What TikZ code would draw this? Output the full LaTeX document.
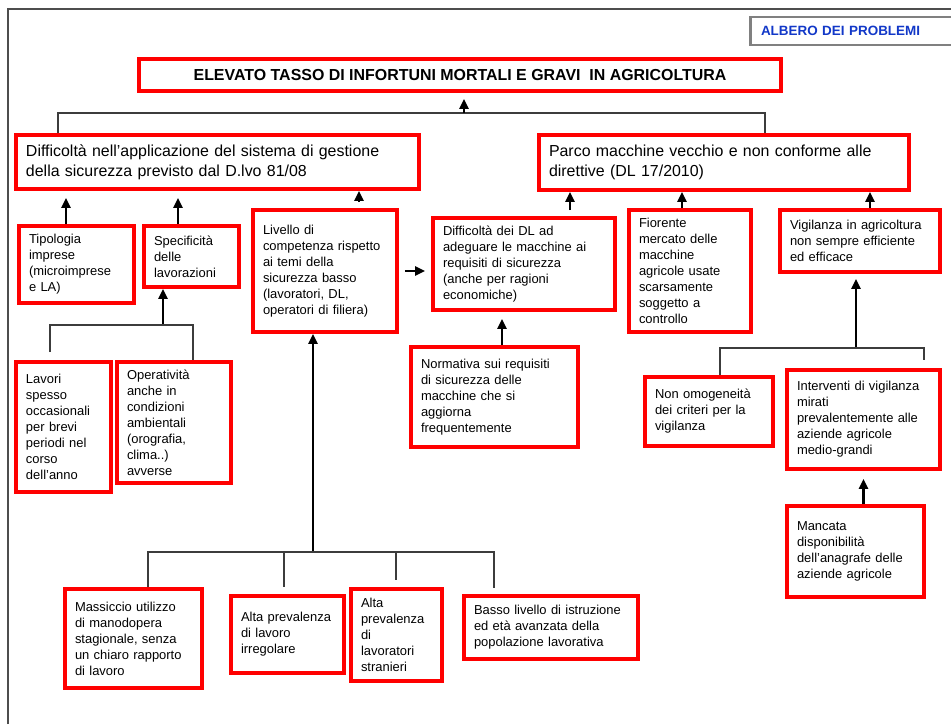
\documentclass[tikz,border=0pt]{standalone}
\usepackage{fontspec}
\setmainfont{Liberation Sans}
\usetikzlibrary{arrows.meta}
\definecolor{alarm}{HTML}{FF0000}
\definecolor{marine}{HTML}{1238C8}
\definecolor{wire}{HTML}{3C3C3C}
\definecolor{slate}{HTML}{808080}

\begin{document}
\begin{tikzpicture}[
  font=\fontsize{7.37}{9.07}\selectfont,
  box/.style={draw=alarm,fill=white,line width=2.1pt,align=left,inner xsep=.2cm,inner ysep=2pt},
  cell/.style 2 args={box,text width=#1cm,minimum height=#2cm},
  head/.style 2 args={cell={#1}{#2},font=\fontsize{9.07}{11.34}\selectfont},
  tree/.style={draw=wire,line width=.6pt},
  cause/.style={-{Triangle[length=2mm,width=1.8mm]},draw=black,line width=1.5pt},
]
\useasboundingbox (0,0) rectangle (19.02,14.48);
\draw[slate!60!black,line width=.9pt] (.16,0) -- (.16,14.30) -- (19.02,14.30);

\begin{scope}
  \clip (0,0) rectangle (19.02,14.48);
  \node[draw=slate,line width=1.7pt,fill=white,text=marine,align=left,text width=3.86cm,inner xsep=.22cm,minimum height=.56cm,font=\bfseries\fontsize{7.65}{9}\selectfont] (tag) at (17.15,13.86) {ALBERO DEI PROBLEMI};
\end{scope}

\node[box,align=center,minimum width=12.84cm,minimum height=.64cm,font=\bfseries\fontsize{9.07}{11}\selectfont] (top) at (9.20,12.98) {ELEVATO TASSO DI INFORTUNI MORTALI E GRAVI\ \ IN AGRICOLTURA};

% second level
\node[head={7.66}{1.08}] (diff) at (4.35,11.24) {Difficoltà nell’applicazione del sistema di gestione\\della sicurezza previsto dal D.lvo 81/08};
\node[head={7.00}{1.10}] (parco) at (14.48,11.23) {Parco macchine vecchio e non conforme alle\\direttive (DL 17/2010)};

% causes
\node[cell={1.90}{1.54}] (tipologia) at (1.53,9.19) {Tipologia\\imprese\\(microimprese\\e LA)};
\node[cell={1.50}{1.22}] (specificita) at (3.83,9.35) {Specificità\\delle\\lavorazioni};
\node[cell={2.48}{2.44}] (livello) at (6.50,9.06) {Livello di\\competenza rispetto\\ai temi della\\sicurezza basso\\(lavoratori, DL,\\operatori di filiera)};
\node[cell={3.24}{1.84}] (adeguare) at (10.48,9.20) {Difficoltà dei DL ad\\adeguare le macchine ai\\requisiti di sicurezza\\(anche per ragioni\\economiche)};
\node[cell={2.04}{2.44}] (fiorente) at (13.80,9.06) {Fiorente\\mercato delle\\macchine\\agricole usate\\scarsamente\\soggetto a\\controllo};
\node[cell={2.80}{1.24}] (vigilanza) at (17.20,9.66) {Vigilanza in agricoltura\\non sempre efficiente\\ed efficace};

\node[cell={1.50}{2.60}] (lavori) at (1.27,5.94) {Lavori\\spesso\\occasionali\\per brevi\\periodi nel\\corso\\dell’anno};
\node[cell={1.88}{2.42}] (operativita) at (3.48,6.03) {Operatività\\anche in\\condizioni\\ambientali\\(orografia,\\clima..)\\avverse};
\node[cell={2.94}{2.00}] (normativa) at (9.89,6.54) {Normativa sui requisiti\\di sicurezza delle\\macchine che si\\aggiorna\\frequentemente};
\node[cell={2.16}{1.38}] (omogeneita) at (14.18,6.25) {Non omogeneità\\dei criteri per la\\vigilanza};
\node[cell={2.66}{1.98}] (interventi) at (17.27,6.09) {Interventi di vigilanza\\mirati\\prevalentemente alle\\aziende agricole\\medio-grandi};
\node[cell={2.34}{1.82}] (mancata) at (17.11,3.45) {Mancata\\disponibilità\\dell’anagrafe delle\\aziende agricole};

\node[cell={2.34}{1.98}] (massiccio) at (2.67,1.71) {Massiccio utilizzo\\di manodopera\\stagionale, senza\\un chiaro rapporto\\di lavoro};
\node[cell={1.86}{1.54}] (irregolare) at (5.75,1.79) {Alta prevalenza\\di lavoro\\irregolare};
\node[cell={1.42}{1.84}] (stranieri) at (7.93,1.78) {Alta\\prevalenza\\di\\lavoratori\\stranieri};
\node[cell={3.08}{1.26}] (basso) at (11.02,1.93) {Basso livello di istruzione\\ed età avanzata della\\popolazione lavorativa};

% tree under the title
\coordinate (hubL) at (1.16,12.22);
\coordinate (hubM) at (9.28,12.22);
\coordinate (hubR) at (15.30,12.22);
\draw[tree] (hubL |- diff.north) -- (hubL) -- (hubR) -- (hubR |- parco.north);
\draw[cause,shorten >=.12cm] (hubM) -- (hubM |- top.south);

\foreach \n/\dx/\t/\a/\b in {tipologia/-.21/diff/0/.14,specificita/-.27/diff/0/.14,livello/.68/diff/.12/0,adeguare/.92/parco/.12/0,fiorente/-.16/parco/0/0,vigilanza/.20/parco/0/0}
  \draw[cause,shorten <=\a cm,shorten >=\b cm] ([xshift=\dx cm]\n.north) -- ([xshift=\dx cm]\n.north |- \t.south);
\draw[cause,shorten <=.12cm,shorten >=.12cm] (livello.east) -- (livello.east -| adeguare.west);
\draw[cause,shorten >=.14cm] ([xshift=.15cm]normativa.north) -- ([xshift=.15cm]normativa.north |- adeguare.south);
\draw[cause,shorten >=.16cm] (interventi.south |- mancata.north) -- (interventi.south);

% sub-trees
\coordinate (subA) at (3.26,7.98);
\draw[cause] (subA) -- (subA |- specificita.south);
\draw[tree,shorten <=.16cm] ([xshift=-.27cm]lavori.north) |- (subA) -| ([xshift=.38cm]operativita.north);

\coordinate (subB) at (6.26,3.44);
\draw[cause] (subB) -- (subB |- livello.south);
\draw[tree,shorten >=.12cm] ([xshift=.29cm]massiccio.north) |- ([xshift=-1.14cm]basso.north |- subB) -- ([xshift=-1.14cm]basso.north);
\foreach \n/\dx in {irregolare/-.07,stranieri/-.01}
  \draw[tree,shorten >=.14cm] ([xshift=\dx cm]\n.north |- subB) -- ([xshift=\dx cm]\n.north);

\coordinate (subC) at (17.12,7.52);
\draw[cause,shorten >=.1cm] (subC) -- (subC |- vigilanza.south);
\draw[tree,shorten >=.16cm] ([xshift=.22cm]omogeneita.north) |- (subC) -| ([xshift=1.21cm]interventi.north);
\end{tikzpicture}
\end{document}
